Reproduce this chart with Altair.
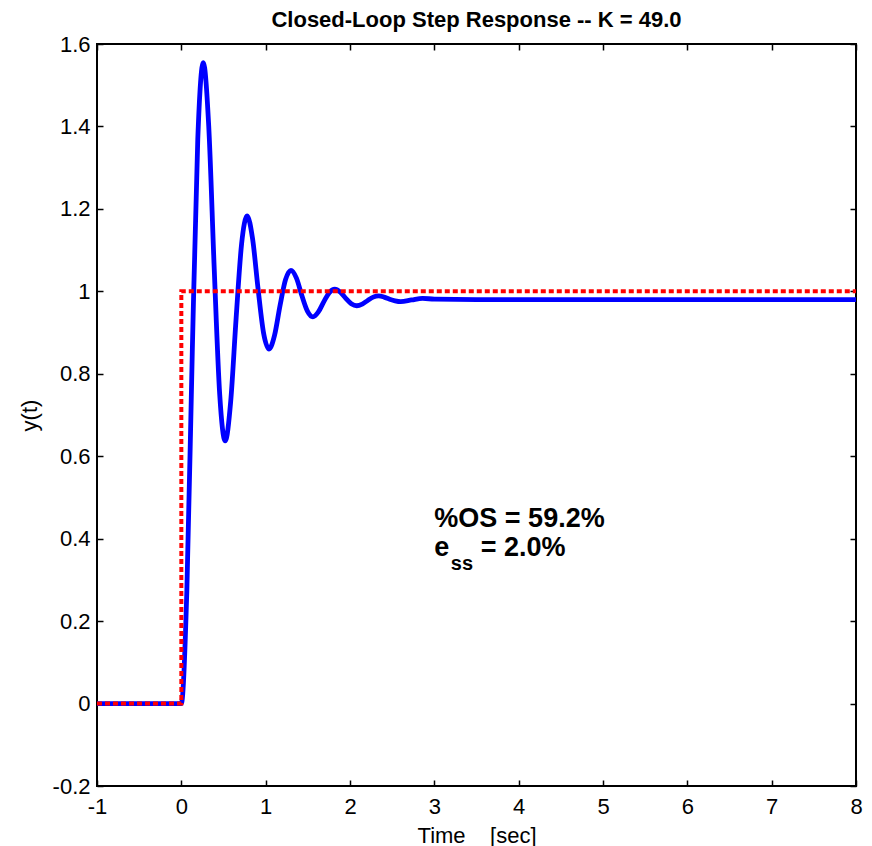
import altair as alt
import pandas as pd

# ---- data ----
# closed-loop response y(t) (blue)
resp_t = [-1.0, 0.0, 0.065, 0.13, 0.195, 0.26, 0.325, 0.39, 0.455, 0.52, 0.585,
          0.65, 0.715, 0.78, 0.845, 0.91, 0.975, 1.04, 1.105, 1.17, 1.235,
          1.30, 1.365, 1.43, 1.495, 1.56, 1.625, 1.69, 1.755, 1.82, 1.885,
          1.95, 2.015, 2.08, 2.145, 2.21, 2.275, 2.34, 2.405, 2.47, 2.535,
          2.60, 2.73, 2.86, 3.0, 3.5, 8.0]
resp_y = [0.0, 0.0, 0.271, 0.854, 1.369, 1.555, 1.400, 1.055, 0.750, 0.637, 0.732,
          0.936, 1.116, 1.183, 1.127, 1.006, 0.899, 0.860, 0.893, 0.965, 1.028,
          1.051, 1.032, 0.989, 0.952, 0.938, 0.950, 0.975, 0.997, 1.005, 0.998,
          0.983, 0.970, 0.965, 0.969, 0.978, 0.986, 0.989, 0.986, 0.981, 0.977,
          0.975, 0.979, 0.983, 0.981, 0.980, 0.980]

# unit step input (red dotted)
step_t = [-1.0, 0.0, 0.0, 8.0]
step_y = [0.0, 0.0, 1.0, 1.0]

x_ticks = [-1, 0, 1, 2, 3, 4, 5, 6, 7, 8]
y_ticks = [-0.2, 0, 0.2, 0.4, 0.6, 0.8, 1.0, 1.2, 1.4, 1.6]

title_text = "Closed-Loop Step Response -- K = 49.0"
x_title = "Time\u00a0\u00a0\u00a0\u00a0[sec]"
y_title = "y(t)"

ann_text = ["%OS = 59.2%", "e", "ss", "= 2.0%"]
ann_t = [3.0, 3.0, 3.195, 3.55]
ann_y = [0.428, 0.359, 0.325, 0.359]
ann_size = [27, 27, 20, 27]

# ---- chart ----
W, H = 759, 742
FONT = "Liberation Sans"
LABEL_EXPR = "replace(format(datum.value, '~g'), '\u2212', '-')"

resp_df = pd.DataFrame({"t": resp_t, "y": resp_y})
step_df = pd.DataFrame({"t": step_t, "y": step_y, "i": list(range(len(step_t)))})
ann_df = pd.DataFrame({"t": ann_t, "y": ann_y, "text": ann_text, "size": ann_size})

xs = alt.Scale(domain=[-1, 8], nice=False, zero=False)
ys = alt.Scale(domain=[-0.2, 1.6], nice=False, zero=False)


def tick_axis(vals, orient, offset):
    return alt.Axis(orient=orient, offset=offset, values=vals, labels=False,
                    domain=False, ticks=True, tickSize=6, tickWidth=1.5,
                    tickColor="black", title=None, grid=False)


x_main = alt.Axis(orient="bottom", values=x_ticks, ticks=False, tickSize=0,
                  domain=False, grid=False, labelFont=FONT, labelFontSize=22,
                  labelColor="black", labelPadding=10, labelExpr=LABEL_EXPR,
                  labelFlush=False, labelOverlap=False,
                  title=x_title, titleFont=FONT, titleFontSize=22,
                  titleFontWeight="normal", titleColor="black",
                  titleX=W / 2, titleY=56, titleAlign="center",
                  titleBaseline="alphabetic")
y_main = alt.Axis(orient="left", values=y_ticks, ticks=False, tickSize=0,
                  domain=False, grid=False, labelFont=FONT, labelFontSize=22,
                  labelColor="black", labelPadding=7, labelExpr=LABEL_EXPR,
                  labelFlush=False, labelOverlap=False,
                  title=y_title, titleFont=FONT, titleFontSize=22,
                  titleFontWeight="normal", titleColor="black",
                  titleAngle=270, titleX=-68, titleY=H / 2,
                  titleAlign="center", titleBaseline="middle")

blue = alt.Chart(resp_df).mark_line(
    color="#0000ff", strokeWidth=4.8, interpolate="monotone", strokeJoin="round"
).encode(
    x=alt.X("t:Q", scale=xs, axis=x_main),
    y=alt.Y("y:Q", scale=ys, axis=y_main),
)

red = alt.Chart(step_df).mark_line(
    color="#ff0000", strokeWidth=4, strokeDash=[5, 3]
).encode(
    x=alt.X("t:Q", scale=xs, axis=tick_axis(x_ticks, "top", -H)),
    y=alt.Y("y:Q", scale=ys, axis=tick_axis(y_ticks, "right", -W)),
    order=alt.Order("i:Q"),
)

ann = alt.Chart(ann_df).mark_text(
    align="left", baseline="alphabetic", font=FONT, fontWeight="bold", color="black"
).encode(
    x=alt.X("t:Q", scale=xs, axis=tick_axis(x_ticks, "bottom", -H)),
    y=alt.Y("y:Q", scale=ys, axis=tick_axis(y_ticks, "left", -W)),
    text="text:N",
    size=alt.Size("size:Q", scale=None, legend=None),
)

chart = alt.layer(blue, red, ann).resolve_axis(
    x="independent", y="independent"
).properties(
    width=W,
    height=H,
    title=alt.TitleParams(text=title_text, font=FONT, fontSize=22,
                          fontWeight="bold", color="black", anchor="middle",
                          frame="group", offset=16, baseline="alphabetic",
                          dy=32),
    padding={"left": 97, "top": 44, "right": 16, "bottom": 60},
    autosize=alt.AutoSizeParams(type="none"),
).configure(
    background="white"
).configure_view(
    stroke="black", strokeWidth=2
)

chart.save("out.html", embed_options={"renderer": "svg", "actions": False})
